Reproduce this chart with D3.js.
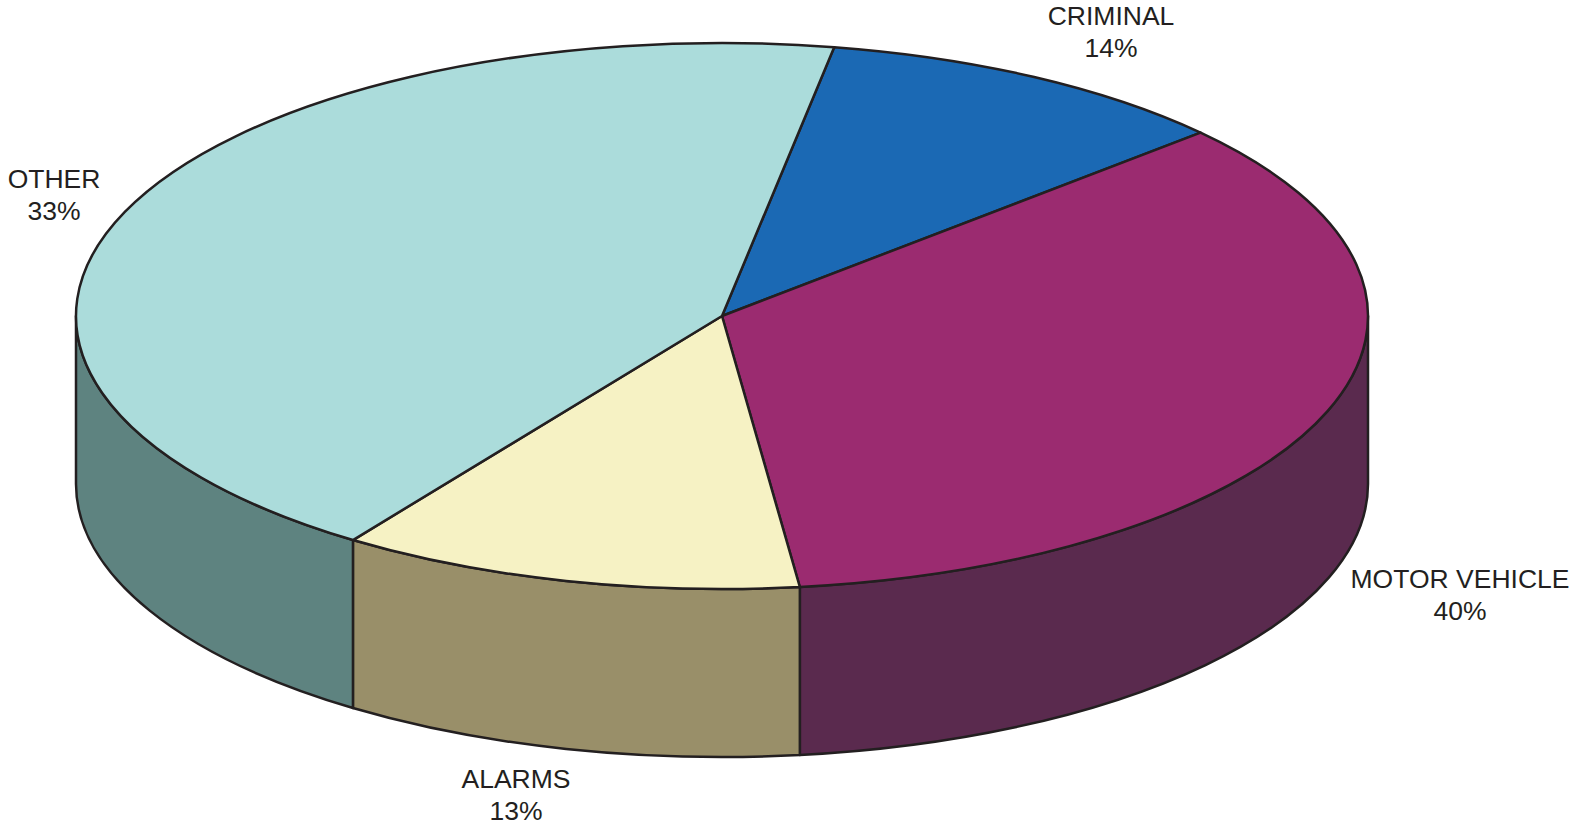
<!DOCTYPE html>
<html>
<head>
<meta charset = 'utf-8'>
<script src = 'https://d3js.org/d3.v7.min.js'></script>
<style>
body {margin: 0; background: #fff;}
</style>
</head>
<body>
<div id="my_dataviz"></div>
<script>
// slice order goes clockwise from CRIMINAL
var categories = ['CRIMINAL', 'MOTOR VEHICLE', 'ALARMS', 'OTHER'];
// share of the pie as it is drawn
var shares = [10.5, 34.8, 11.6, 43.1];
// printed percentages
var pctLabels = ['14%', '40%', '13%', '33%'];
var topColors = ['#1b69b4', '#9b2b70', '#f6f2c4', '#abdcdb'];
var sideColors = ['#174f88', '#5a2a4e', '#998f69', '#5e8380'];

var width = 1571, height = 826;
var cx = 722, cy = 316, rx = 646, ry = 273, depth = 168;

var svg = d3.select('#my_dataviz')
.append('svg')
.attr('width', width)
.attr('height', height);

var pie = d3.pie()
.sort(null)
.value(function(d) {return d;})
.startAngle(10 * Math.PI / 180)
.endAngle(10 * Math.PI / 180 + 2 * Math.PI);

var arcs = pie(shares);

function px(a) {return cx + rx * Math.sin(a);}
function py(a, dy) {return cy - ry * Math.cos(a) + (dy || 0);}

function topPath(d) {
  var large = (d.endAngle - d.startAngle) > Math.PI ? 1 : 0;
  return 'M' + cx + ',' + cy +
  'L' + px(d.startAngle) + ',' + py(d.startAngle) +
  'A' + rx + ',' + ry + ' 0 ' + large + ' 1 ' + px(d.endAngle) + ',' + py(d.endAngle) + 'Z';
}

// front half of the rim is from PI/2 to 3PI/2
function sidePath(d) {
  var lo = Math.PI / 2, hi = 3 * Math.PI / 2;
  var a = d.startAngle, b = d.endAngle;
  if (a >= 2 * Math.PI) {a -= 2 * Math.PI; b -= 2 * Math.PI;}
  a = Math.max(a, lo);
  b = Math.min(b, hi);
  if (b <= a) return null;
  return 'M' + px(a) + ',' + py(a) +
  'A' + rx + ',' + ry + ' 0 0 1 ' + px(b) + ',' + py(b) +
  'L' + px(b) + ',' + py(b, depth) +
  'A' + rx + ',' + ry + ' 0 0 0 ' + px(a) + ',' + py(a, depth) + 'Z';
}

svg.selectAll('path.side')
.data(arcs)
.enter()
.append('path')
.attr('class', 'side')
.attr('d', sidePath)
.style('fill', function(d, i) {return sideColors[i];})
.style('stroke', '#231f20')
.style('stroke-width', 2.5)
.style('stroke-linejoin', 'round');

svg.selectAll('path.top')
.data(arcs)
.enter()
.append('path')
.attr('class', 'top')
.attr('d', topPath)
.style('fill', function(d, i) {return topColors[i];})
.style('stroke', '#231f20')
.style('stroke-width', 2.5)
.style('stroke-linejoin', 'round');

// label anchor points
var labelPos = [[1111, 25], [1460, 588], [516, 788], [54, 188]];

var lab = svg.selectAll('text.lab')
.data(categories)
.enter()
.append('text')
.attr('class', 'lab')
.attr('x', function(d, i) {return labelPos[i][0];})
.attr('y', function(d, i) {return labelPos[i][1];})
.attr('text-anchor', 'middle')
.style('font-family', 'Liberation Sans, Arial, sans-serif')
.style('font-size', '26.5px')
.style('fill', '#231f20');

lab.append('tspan')
.attr('x', function(d, i) {return labelPos[i][0];})
.text(function(d) {return d;});

lab.append('tspan')
.attr('x', function(d, i) {return labelPos[i][0];})
.attr('dy', 32)
.text(function(d, i) {return pctLabels[i];});
</script>
</body>
</html>
